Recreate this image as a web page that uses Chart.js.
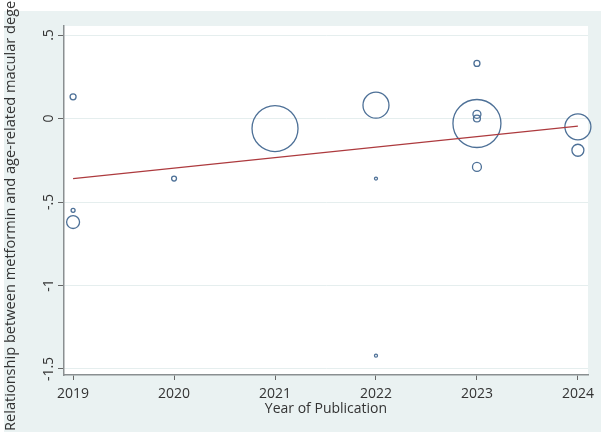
<!DOCTYPE html>
<html>
<head>
<meta charset="utf-8">
<script src="https://cdn.jsdelivr.net/npm/chart.js@4/dist/chart.umd.min.js"></script>
<style>
  html, body { margin: 0; padding: 0; background: #ffffff; }
  #wrap { width: 601px; height: 432px; }
</style>
</head>
<body>
<div id="wrap"><canvas id="c" width="601" height="432"></canvas></div>
<script>
// Study-level estimates: publication year, effect, and study weight (bubble area)
const studyYear   = [2019, 2019, 2019, 2020, 2021, 2022, 2022, 2022, 2023, 2023, 2023, 2023, 2023, 2024, 2024];
const studyEffect = [0.13, -0.55, -0.62, -0.36, -0.06, 0.08, -0.36, -1.42, 0.33, 0.025, 0.0, -0.03, -0.29, -0.05, -0.19];
const studyWeight = [9, 4, 42, 6, 529, 169, 2.25, 2.25, 9, 16, 12, 576, 20, 169, 36];

// Fitted meta-regression line
const fitYear  = [2019, 2024];
const fitValue = [-0.36, -0.045];

// Axis ticks
const xTicks = [2019, 2020, 2021, 2022, 2023, 2024];
const xTickLabels = ['2019', '2020', '2021', '2022', '2023', '2024'];
const yTicks = [0.5, 0, -0.5, -1, -1.5];
const yTickLabels = ['.5', '0', '-.5', '-1', '-1.5'];

const xTitle = 'Year of Publication';
const yTitle = 'Relationship between metformin and age-related macular degeneration';

const FONT = '"Open Sans", "DejaVu Sans", sans-serif';
const TEXT = '#333333';
const REGION = '#eaf2f2';

const bubbles = studyYear.map((yr, i) => ({ x: yr, y: studyEffect[i], r: Math.sqrt(studyWeight[i]) }));
const fitLine = fitYear.map((yr, i) => ({ x: yr, y: fitValue[i] }));

const backdrop = {
  id: 'backdrop',
  beforeDraw(chart) {
    const { ctx, chartArea: a, width, height } = chart;
    ctx.save();
    ctx.fillStyle = REGION;
    ctx.fillRect(0, 0, width, height);
    ctx.fillStyle = '#ffffff';
    ctx.fillRect(0, 0, width, 11);
    ctx.fillRect(0, 0, 4, height);
    ctx.fillRect(a.left, a.top, a.right - a.left, a.bottom - a.top);
    ctx.restore();
  }
};

const axisText = {
  id: 'axisText',
  afterDraw(chart) {
    const { ctx, chartArea: a } = chart;
    const xs = chart.scales.x;
    const ys = chart.scales.y;
    ctx.save();
    ctx.fillStyle = TEXT;
    ctx.font = '14px ' + FONT;
    ctx.textAlign = 'center';
    ctx.textBaseline = 'middle';
    // x tick labels
    xTicks.forEach((v, i) => {
      ctx.fillText(xTickLabels[i], xs.getPixelForValue(v), a.bottom + 19);
    });
    // rotated y tick labels
    yTicks.forEach((v, i) => {
      const py = ys.getPixelForValue(v);
      ctx.save();
      ctx.translate(49, py);
      ctx.rotate(-Math.PI / 2);
      ctx.fillText(yTickLabels[i], 0, 0);
      ctx.restore();
    });
    // y axis title, reading upward from the bottom edge
    ctx.save();
    ctx.font = '14.6px ' + FONT;
    ctx.translate(11, 431);
    ctx.rotate(-Math.PI / 2);
    ctx.textAlign = 'left';
    ctx.fillText(yTitle, 0, 0);
    ctx.restore();
    // x axis title
    ctx.fillText(xTitle, (a.left + a.right) / 2, a.bottom + 34);
    ctx.restore();
  }
};

new Chart(document.getElementById('c'), {
  type: 'bubble',
  data: {
    datasets: [
      {
        type: 'bubble',
        data: bubbles,
        backgroundColor: 'rgba(0,0,0,0)',
        borderColor: '#4d7097',
        borderWidth: 1.3,
        hoverRadius: 0,
        hoverBorderWidth: 1.3,
        clip: false,
        order: 2
      },
      {
        type: 'line',
        data: fitLine,
        borderColor: '#ad3a3e',
        borderWidth: 1.3,
        pointRadius: 0,
        fill: false,
        order: 1
      }
    ]
  },
  plugins: [backdrop, axisText],
  options: {
    responsive: false,
    animation: false,
    devicePixelRatio: 1,
    layout: { autoPadding: false, padding: { top: 26, right: 13, left: 0, bottom: 0 } },
    plugins: { legend: { display: false }, tooltip: { enabled: false } },
    scales: {
      x: {
        type: 'linear',
        min: 2018.91,
        max: 2024.1,
        afterBuildTicks(scale) { scale.ticks = xTicks.map(v => ({ value: v })); },
        afterFit(scale) { scale.height = 57; },
        border: { display: true, color: '#8a8f91', width: 1.5 },
        grid: { drawOnChartArea: false, drawTicks: true, tickLength: 5, tickColor: '#666666', lineWidth: 1 },
        ticks: { display: false }
      },
      y: {
        type: 'linear',
        min: -1.536,
        max: 0.554,
        afterBuildTicks(scale) { scale.ticks = yTicks.map(v => ({ value: v })); },
        afterFit(scale) { scale.width = 64; },
        border: { display: true, color: '#8a8f91', width: 1.5 },
        grid: { drawOnChartArea: true, color: '#e5eeee', lineWidth: 1, drawTicks: true, tickLength: 6, tickColor: '#666666' },
        ticks: { display: false }
      }
    }
  }
});
</script>
</body>
</html>
